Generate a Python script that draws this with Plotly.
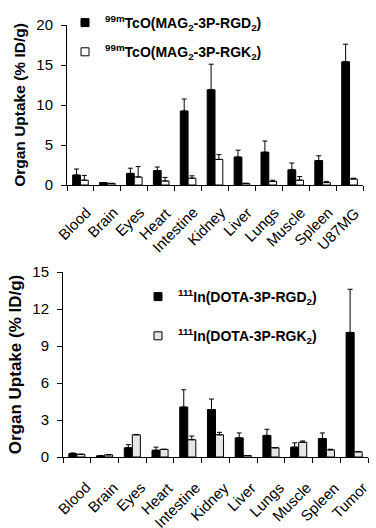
import plotly.graph_objects as go

# ---------------- data ----------------
organs_top = ["Blood", "Brain", "Eyes", "Heart", "Intestine", "Kidney",
              "Liver", "Lungs", "Muscle", "Spleen", "U87MG"]
rgd_top = [1.25, 0.3, 1.45, 1.8, 9.25, 11.9, 3.5, 4.1, 1.9, 3.05, 15.4]
rgd_top_err = [0.75, 0.0, 0.65, 0.45, 1.5, 3.2, 0.85, 1.4, 0.85, 0.6, 2.2]
rgk_top = [0.6, 0.2, 1.0, 0.5, 0.85, 3.2, 0.2, 0.45, 0.6, 0.3, 0.75]
rgk_top_err = [0.6, 0.0, 1.3, 0.45, 0.3, 0.6, 0.0, 0.15, 0.45, 0.15, 0.1]

organs_bot = ["Blood", "Brain", "Eyes", "Heart", "Intestine", "Kidney",
              "Liver", "Lungs", "Muscle", "Spleen", "Tumor"]
rgd_bot = [0.28, 0.1, 0.75, 0.55, 4.05, 3.85, 1.55, 1.75, 0.8, 1.5, 10.1]
rgd_bot_err = [0.05, 0.0, 0.25, 0.25, 1.4, 0.85, 0.4, 0.5, 0.35, 0.45, 3.5]
rgk_bot = [0.22, 0.18, 1.8, 0.62, 1.4, 1.8, 0.12, 0.75, 1.2, 0.58, 0.42]
rgk_bot_err = [0.0, 0.0, 0.03, 0.0, 0.3, 0.2, 0.0, 0.0, 0.1, 0.05, 0.03]

name_top_rgd = "<sup>99m</sup>TcO(MAG<sub>2</sub>-3P-RGD<sub>2</sub>)"
name_top_rgk = "<sup>99m</sup>TcO(MAG<sub>2</sub>-3P-RGK<sub>2</sub>)"
name_bot_rgd = "<sup>111</sup>In(DOTA-3P-RGD<sub>2</sub>)"
name_bot_rgk = "<sup>111</sup>In(DOTA-3P-RGK<sub>2</sub>)"

FONT = "Liberation Sans, Arial, sans-serif"
W, H = 376, 528


def err(arr):
    return dict(type="data", array=arr, arrayminus=[0] * len(arr), symmetric=False,
                color="black", thickness=1, width=2.5)


fig = go.Figure()

# top chart
fig.add_bar(x=organs_top, y=rgd_top, error_y=err(rgd_top_err), name=name_top_rgd,
            marker=dict(color="black", line=dict(color="black", width=1)),
            xaxis="x", yaxis="y", showlegend=False)
fig.add_bar(x=organs_top, y=rgk_top, error_y=err(rgk_top_err), name=name_top_rgk,
            marker=dict(color="white", line=dict(color="black", width=1)),
            xaxis="x", yaxis="y", showlegend=False)
# bottom chart
fig.add_bar(x=organs_bot, y=rgd_bot, error_y=err(rgd_bot_err), name=name_bot_rgd,
            marker=dict(color="black", line=dict(color="black", width=1)),
            xaxis="x2", yaxis="y2", showlegend=False)
fig.add_bar(x=organs_bot, y=rgk_bot, error_y=err(rgk_bot_err), name=name_bot_rgk,
            marker=dict(color="#e6e6e6", line=dict(color="black", width=1)),
            xaxis="x2", yaxis="y2", showlegend=False)

# legend entries (square symbols)
for nm, col, xa, ya, lg, grp in [
    (name_top_rgd, "black", "x", "y", "legend", "a"),
    (name_top_rgk, "white", "x", "y", "legend", "b"),
    (name_bot_rgd, "black", "x2", "y2", "legend2", "c"),
    (name_bot_rgk, "#e6e6e6", "x2", "y2", "legend2", "d"),
]:
    fig.add_scatter(x=[None], y=[None], mode="markers", name=nm,
                    marker=dict(symbol="square", size=8, color=col,
                                line=dict(color="black", width=1)),
                    xaxis=xa, yaxis=ya, legend=lg, legendgroup=grp, showlegend=True)

# rotated category labels (placed on each category of the axis)
for cats, xa, ya, xs, ys in [(organs_top, "x", "y", 16, -16),
                             (organs_bot, "x2", "y2", 19, -19)]:
    for c in cats:
        fig.add_annotation(x=c, y=0, xref=xa, yref=ya, text=c, showarrow=False,
                           textangle=-45, xanchor="right", yanchor="top",
                           xshift=xs, yshift=ys,
                           font=dict(family=FONT, size=15, color="black"))

xcommon = dict(type="category", showline=True, linecolor="black", linewidth=1,
               ticks="outside", tickson="boundaries", ticklen=5, tickcolor="black",
               tickwidth=1, showticklabels=False, automargin=False,
               showgrid=False, zeroline=False, fixedrange=True)


def ycommon(title_size):
    return dict(showline=True, linecolor="black", linewidth=1, ticks="outside",
                ticklen=5, tickcolor="black", showgrid=False, zeroline=False,
                tickfont=dict(family=FONT, size=15, color="black"),
                ticklabelstandoff=5, automargin=False, fixedrange=True,
                title=dict(text="Organ Uptake (% ID/g)",
                           font=dict(family=FONT, size=title_size, color="black",
                                     weight="bold"),
                           standoff=6))


fig.update_layout(
    width=W, height=H,
    margin=dict(l=0, r=0, t=0, b=0),
    paper_bgcolor="white", plot_bgcolor="white",
    barmode="group", bargap=0.42, bargroupgap=0,
    font=dict(family=FONT, color="black"),
    xaxis=dict(domain=[67 / W, 363 / W], anchor="y",
               range=[-0.5, len(organs_top) - 0.5], **xcommon),
    yaxis=dict(domain=[1 - 185 / H, 1 - 25 / H], anchor="x", range=[0, 20], dtick=5,
               **ycommon(15.5)),
    xaxis2=dict(domain=[63 / W, 368 / W], anchor="y2",
                range=[-0.5, len(organs_bot) - 0.5], **xcommon),
    yaxis2=dict(domain=[1 - 457 / H, 1 - 272 / H], anchor="x2", range=[0, 15], dtick=3,
                **ycommon(17)),
    legend=dict(x=65 / W, y=1 - 7 / H, xanchor="left", yanchor="top",
                bgcolor="rgba(0,0,0,0)", tracegroupgap=8,
                font=dict(family=FONT, size=14, color="black", weight="bold")),
    legend2=dict(x=138 / W, y=1 - 281 / H, xanchor="left", yanchor="top",
                 bgcolor="rgba(0,0,0,0)", tracegroupgap=18,
                 font=dict(family=FONT, size=14, color="black", weight="bold")),
)

fig.write_html("out.html", config={"displayModeBar": False},
               post_script="document.body.style.margin='0';document.body.style.padding='0';")
